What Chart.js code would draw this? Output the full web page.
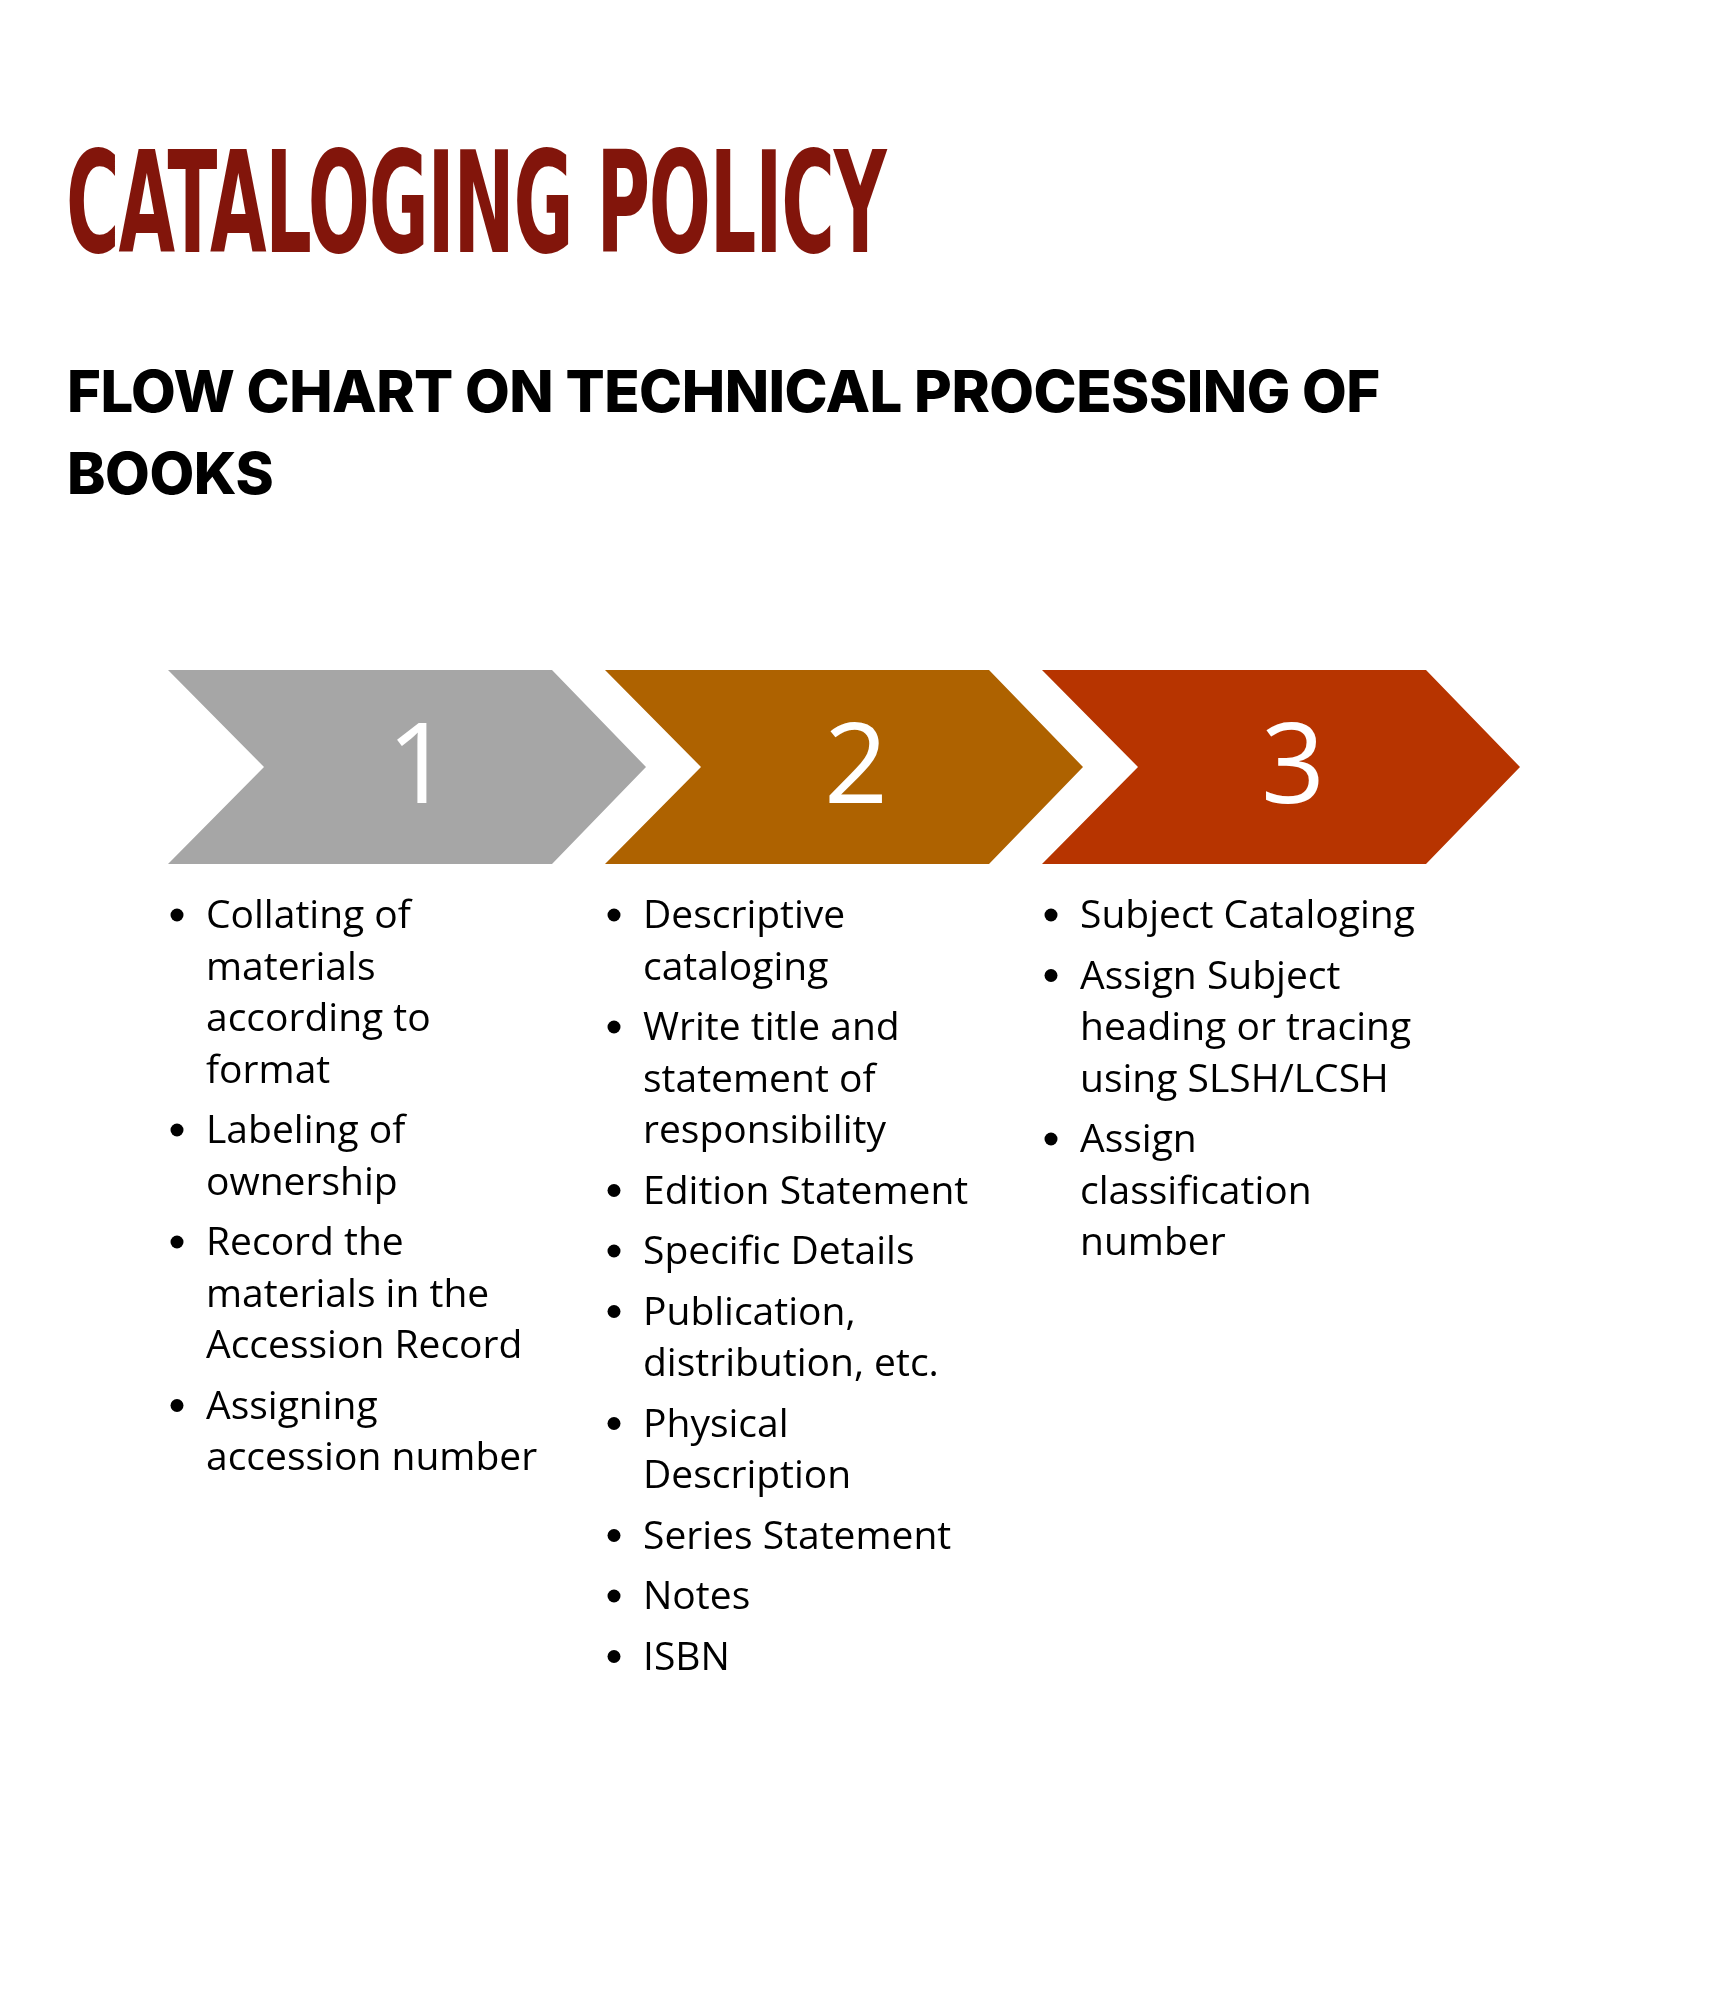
<!DOCTYPE html>
<html>
<head>
<meta charset="utf-8">
<script src="https://cdn.jsdelivr.net/npm/chart.js@4"></script>
<style>
  html, body { margin: 0; padding: 0; background: #fff; }
  #wrap { position: relative; width: 1714px; height: 2000px; }
  #chart { position: absolute; left: 0; top: 0; }
  h1 {
    position: absolute; left: 66px; top: 134px; margin: 0;
    font-family: "Liberation Sans Narrow", "DejaVu Sans Condensed", sans-serif;
    font-weight: bold; font-size: 140px; color: #82150b; letter-spacing: -2px;
    transform: scaleX(0.58); transform-origin: left top; line-height: 1;
  }
  h2 {
    position: absolute; left: 67px; top: 350px; margin: 0; width: 1500px;
    font-family: "Inter", "Noto Sans", sans-serif; font-weight: 800;
    font-size: 58px; line-height: 82px; color: #000; letter-spacing: -0.5px;
  }
</style>
</head>
<body>
<div id="wrap">
  <canvas id="chart" width="1714" height="2000"></canvas>
  <h1>CATALOGING POLICY</h1>
  <h2>FLOW CHART ON TECHNICAL PROCESSING OF<br>BOOKS</h2>
</div>
<script>
const steps = ['1', '2', '3'];
const stepColors = ['#a6a6a6', '#ae6200', '#b73400'];
const bullets = [
  [['Collating of', 'materials', 'according to', 'format'], ['Labeling of', 'ownership'],
   ['Record the', 'materials in the', 'Accession Record'], ['Assigning', 'accession number']],
  [['Descriptive', 'cataloging'], ['Write title and', 'statement of', 'responsibility'],
   ['Edition Statement'], ['Specific Details'], ['Publication,', 'distribution, etc.'],
   ['Physical', 'Description'], ['Series Statement'], ['Notes'], ['ISBN']],
  [['Subject Cataloging'], ['Assign Subject', 'heading or tracing', 'using SLSH/LCSH'],
   ['Assign', 'classification', 'number']]
];

// layout (page units)
const colLeft = 168, colStep = 437, chevW = 478, notch = 96, tipLen = 94;
const chevTop = 670, chevBot = 864;

const flowPlugin = {
  id: 'flow',
  afterDatasetsDraw(chart) {
    const { ctx, scales: { x, y } } = chart;
    ctx.save();
    steps.forEach((s, i) => {
      const l = colLeft + i * colStep, r = l + chevW, mid = (chevTop + chevBot) / 2;
      ctx.beginPath();
      ctx.moveTo(x.getPixelForValue(l), y.getPixelForValue(chevTop));
      ctx.lineTo(x.getPixelForValue(r - tipLen), y.getPixelForValue(chevTop));
      ctx.lineTo(x.getPixelForValue(r), y.getPixelForValue(mid));
      ctx.lineTo(x.getPixelForValue(r - tipLen), y.getPixelForValue(chevBot));
      ctx.lineTo(x.getPixelForValue(l), y.getPixelForValue(chevBot));
      ctx.lineTo(x.getPixelForValue(l + notch), y.getPixelForValue(mid));
      ctx.closePath();
      ctx.fillStyle = stepColors[i];
      ctx.fill();
      ctx.fillStyle = '#fff';
      ctx.font = '112px "Open Sans", "Noto Sans", sans-serif';
      ctx.textAlign = 'center';
      ctx.textBaseline = 'middle';
      const pt = chart.getDatasetMeta(0).data[i];
      ctx.fillText(s, pt.x, pt.y + 4);

      // bullet list
      ctx.fillStyle = '#000';
      ctx.font = '39px "Open Sans", "Noto Sans", sans-serif';
      ctx.textAlign = 'left';
      ctx.textBaseline = 'alphabetic';
      let yy = 928;
      bullets[i].forEach(item => {
        ctx.beginPath();
        ctx.arc(x.getPixelForValue(l + 9), y.getPixelForValue(yy - 13), 6.5, 0, Math.PI * 2);
        ctx.fill();
        item.forEach(line => {
          ctx.fillText(line, x.getPixelForValue(l + 38), y.getPixelForValue(yy));
          yy += 51.5;
        });
        yy += 9;
      });
    });
    ctx.restore();
  }
};

new Chart(document.getElementById('chart'), {
  type: 'scatter',
  data: {
    datasets: [{
      data: steps.map((s, i) => ({ x: colLeft + i * colStep + chevW / 2 + 12, y: (chevTop + chevBot) / 2 })),
      pointRadius: 0
    }]
  },
  options: {
    responsive: false, animation: false,
    layout: { padding: 0 },
    plugins: { legend: { display: false }, tooltip: { enabled: false } },
    scales: {
      x: { type: 'linear', min: 0, max: 1714, display: false },
      y: { type: 'linear', min: 0, max: 2000, reverse: true, display: false }
    }
  },
  plugins: [flowPlugin]
});
</script>
</body>
</html>
